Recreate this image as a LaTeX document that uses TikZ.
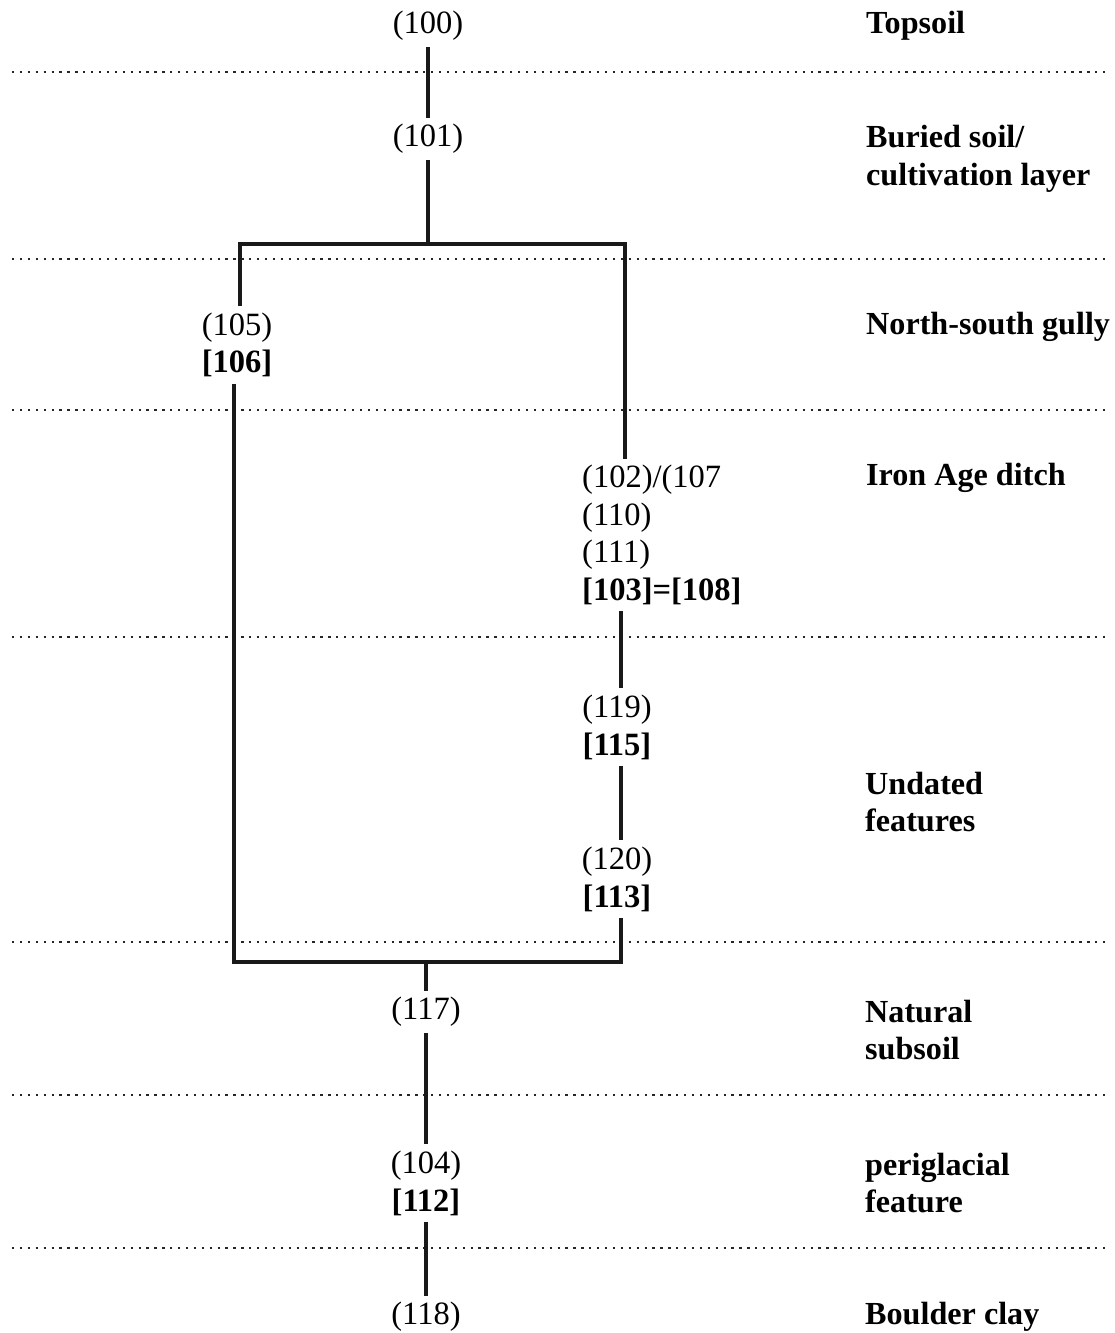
\documentclass[tikz,border=0pt]{standalone}
\usepackage{fontspec}
\setmainfont{Liberation Serif}
\usepackage{tikz}
\usetikzlibrary{calc}

\tikzset{
    unit/.style={font=\fontsize{18.5}{21.5}\selectfont, align=center},
    phase/.style={font=\fontsize{18.3}{21.5}\selectfont\bfseries, align=left, anchor=west},
    link/.style={line width=2.2pt, color=black!90},
    level/.style={line width=1.3pt, dash pattern=on 1.3pt off 3.2pt, color=black!85}
}

\begin{document}
\begin{tikzpicture}[x=0.02cm, y=-0.02cm]
    \useasboundingbox (0,0) rectangle (1115,1333);
    % phase boundaries
    \foreach \y in {72,259,410,637,942,1095,1248}
        \draw[level] (12,\y) -- (1108,\y);

    % contexts
    \node[unit] (t100) at (428,26) {(100)};
    \node[unit] (t101) at (428,139) {(101)};
    \node[unit] (t105) at (237,345) {(105)\\\textbf{[106]}};
    \node[unit, align=left, anchor=west] (g102) at (576,535) {(102)/(107\\(110)\\(111)\\\textbf{[103]=[108]}};
    \node[unit] (t119) at (617,727) {(119)\\\textbf{[115]}};
    \node[unit] (t120) at (617,879) {(120)\\\textbf{[113]}};
    \node[unit] (t117) at (426,1012) {(117)};
    \node[unit] (t104) at (426,1183) {(104)\\\textbf{[112]}};
    \node[unit] (t118) at (426,1317) {(118)};

    % phases
    \node[phase] (p1) at (860,26) {Topsoil};
    \node[phase] (p2) at (860,159) {Buried soil/\\cultivation layer};
    \node[phase] (p3) at (860,327) {North-south gully};
    \node[phase] (p4) at (860,478) {Iron Age ditch};
    \node[phase] (p5) at (859,802) {Undated\\features};
    \node[phase] (p6) at (859,1030) {Natural\\subsoil};
    \node[phase] (p7) at (859,1183) {periglacial\\feature};
    \node[phase] (p8) at (859,1317) {Boulder clay};

    % junctions
    \coordinate (jtop) at (428,244);
    \coordinate (jl) at (240,244);
    \coordinate (jr) at (625,244);
    \coordinate (jbl) at (234,962);
    \coordinate (jbr) at (621,962);
    \coordinate (jbot) at (426,962);

    \draw[link] (t100) -- (t101);
    \draw[link] (t101) -- (jtop);
    \draw[link] (jl |- t105.north) -- (jl) -- (jr) -- (jr |- g102.north);
    \draw[link] (t105.south -| jbl) -- (jbl) -- (jbr) -- (jbr |- t120.south);
    \draw[link] (g102.south -| jbr) -- (jbr |- t119.north);
    \draw[link] (t119.south -| jbr) -- (jbr |- t120.north);
    \draw[link] (jbot) -- (t117);
    \draw[link] (t117) -- (t104);
    \draw[link] (t104) -- (t118);
\end{tikzpicture}
\end{document}
